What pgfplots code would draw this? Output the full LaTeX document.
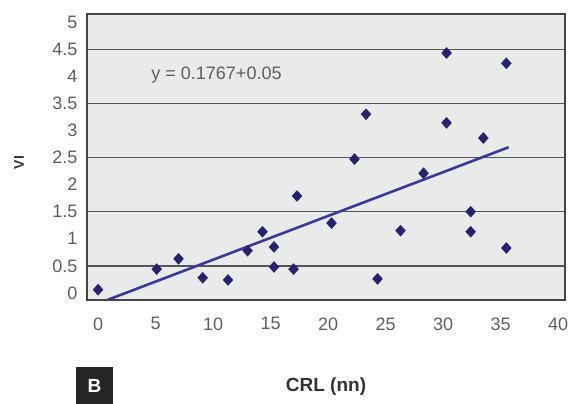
\documentclass[border=0pt]{standalone}
\usepackage{pgfplots}
\pgfplotsset{compat=1.18}
\usepackage{fontspec}
\setmainfont{Liberation Sans}
\definecolor{plotbg}{HTML}{E9EBEB}
\definecolor{frame}{HTML}{444444}
\definecolor{gridc}{HTML}{555555}
\definecolor{ticktext}{HTML}{5E5E5E}
\definecolor{markc}{HTML}{26226F}
\definecolor{trend}{HTML}{3B389A}

\begin{document}
\begin{tikzpicture}
\path[use as bounding box] (0,0) rectangle (582pt,404pt);
\begin{axis}[
    at={(87pt,104pt)}, anchor=south west,
    scale only axis,
    width=478pt, height=286pt,
    xmin=-0.96, xmax=40.6,
    ymin=-0.13, ymax=5.15,
    xtick={0,5,...,40},
    ytick={0,0.5,...,5},
    major tick length=0pt,
    axis line style={frame, line width=1.8pt},
    axis background/.style={fill=plotbg},
    extra y ticks={0.5,1.5,2.5,3.5,4.5},
    extra y tick labels={},
    extra y tick style={grid=major, major grid style={gridc, line width=1.4pt}},
    ticklabel style={font=\fontsize{18}{20}\selectfont, text=ticktext},
    xticklabel style={yshift=-14pt},
    yticklabel style={xshift=-6pt},
    /pgf/number format/assume math mode=true,
    xlabel={\textbf{CRL (nn)}},
    xlabel style={font=\fontsize{19}{22}\selectfont, text=black!80,
        at={(axis description cs:0.5,0)}, anchor=center, yshift=-87pt},
    ylabel={\textbf{VI}},
    ylabel style={font=\fontsize{14}{16}\selectfont, text=black!80,
        at={(axis description cs:-0.142,0.48)}, anchor=center},
    clip=true,
]
\addplot[only marks, mark=diamond*, mark size=5.5pt, color=markc,
    mark options={xscale=1.2}] coordinates {
    (0,0.06) (5.1,0.44) (7.0,0.63) (9.1,0.28) (11.3,0.24) (13.0,0.78)
    (14.3,1.13) (15.3,0.85) (15.3,0.48) (17.0,0.44) (17.3,1.79)
    (20.3,1.29) (24.3,0.26) (26.3,1.15) (32.4,1.50) (32.4,1.13)
    (35.5,0.83) (30.3,4.43) (35.5,4.24) (23.3,3.30) (30.3,3.14)
    (33.5,2.86) (22.3,2.47) (28.3,2.21)
};
\addplot[trend, line width=2.6pt] coordinates {(0.8,-0.13) (35.7,2.69)};
\node[font=\fontsize{18}{20}\selectfont, text=ticktext] at (axis cs:10.3,4.02) {y = 0.1767+0.05};
\end{axis}
\fill[black!85] (76pt,0pt) rectangle (113pt,37pt);
\node[text=white, font=\bfseries\fontsize{19}{22}\selectfont] at (94.5pt,18.5pt) {B};
\end{tikzpicture}
\end{document}
